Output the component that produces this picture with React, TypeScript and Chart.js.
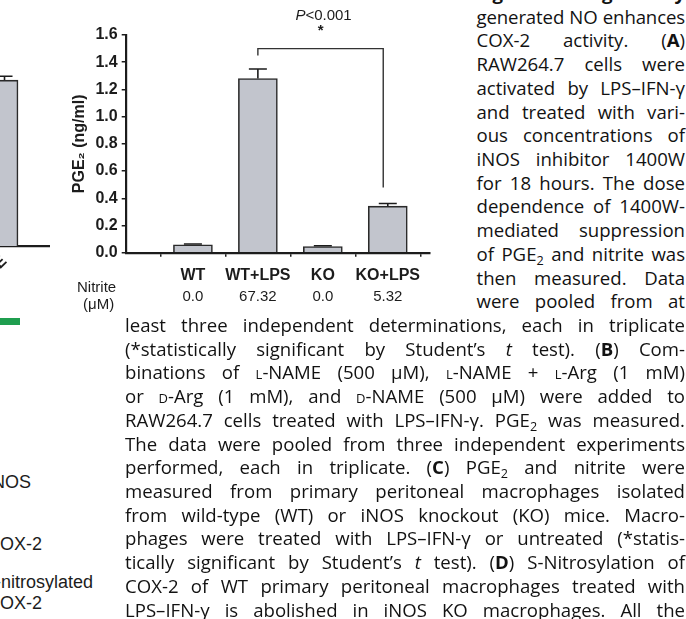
import React, { useEffect, useLayoutEffect, useRef } from "react";
import { Chart, registerables } from "chart.js";

Chart.register(...registerables);

// ---- Panel C data ----
const categories = ["WT", "WT+LPS", "KO", "KO+LPS"];
const pge2Values = [0.058, 1.28, 0.045, 0.342];
const pge2Errors = [0.006, 0.07, 0.006, 0.02];
const nitriteValues = ["0.0", "67.32", "0.0", "5.32"];
const yTickStep = 0.2;
const yMax = 1.6;
const sigText = ["P", "<0.001", "*"];
const bracketX = [2, 3.93];
const bracketY = [1.45, 1.5, 0.48];
const sigTextY = [1.747, 1.655];

// ---- Panel B fragment data ----
const panelBCategories = ["D-NAME"];
const panelBValues = [1.27];
const panelBErrors = [0.03];

const FONT = '"Liberation Sans", Arial, Helvetica, sans-serif';
const TEXT_FONT = '"Open Sans", "Noto Sans", sans-serif';
const BAR_FILL = "#c2c5cd";
const INK = "#1c1c1c";

const errorBarPlugin = {
  id: "errorBars",
  afterDatasetsDraw(chart: any, _args: any, opts: any) {
    const { ctx, scales } = chart;
    const xs = scales.x;
    const ys = scales.y;
    const errs: number[] = opts.errors || [];
    const cap: number = opts.cap || 18;
    const ds = chart.data.datasets[0];
    ctx.save();
    ctx.strokeStyle = INK;
    ctx.lineWidth = 1.6;
    ds.data.forEach((p: any, i: number) => {
      const px = xs.getPixelForValue(p.x);
      const y0 = ys.getPixelForValue(p.y);
      const y1 = ys.getPixelForValue(p.y + (errs[i] || 0));
      ctx.beginPath();
      ctx.moveTo(px, y0);
      ctx.lineTo(px, y1);
      ctx.moveTo(px - cap / 2, y1);
      ctx.lineTo(px + cap / 2, y1);
      ctx.stroke();
    });
    ctx.restore();
  },
};

const bracketPlugin = {
  id: "sigBracket",
  afterDraw(chart: any) {
    const { ctx, scales } = chart;
    const xs = scales.x;
    const ys = scales.y;
    const xl = xs.getPixelForValue(bracketX[0]);
    const xr = xs.getPixelForValue(bracketX[1]);
    const yl = ys.getPixelForValue(bracketY[0]);
    const yt = ys.getPixelForValue(bracketY[1]);
    const yr = ys.getPixelForValue(bracketY[2]);
    ctx.save();
    ctx.strokeStyle = "#333";
    ctx.lineWidth = 1.4;
    ctx.beginPath();
    ctx.moveTo(xl, yl);
    ctx.lineTo(xl, yt);
    ctx.lineTo(xr, yt);
    ctx.lineTo(xr, yr);
    ctx.stroke();
    const cx = (xl + xr) / 2;
    const ty = ys.getPixelForValue(sigTextY[0]);
    ctx.fillStyle = INK;
    ctx.textBaseline = "middle";
    ctx.textAlign = "left";
    ctx.font = `italic 15px ${FONT}`;
    const w1 = ctx.measureText(sigText[0]).width;
    ctx.font = `15px ${FONT}`;
    const w2 = ctx.measureText(sigText[1]).width;
    const sx = cx - (w1 + w2) / 2 + 3;
    ctx.font = `italic 15px ${FONT}`;
    ctx.fillText(sigText[0], sx, ty + 1);
    ctx.font = `15px ${FONT}`;
    ctx.fillText(sigText[1], sx + w1, ty + 1);
    ctx.font = `bold 15px ${FONT}`;
    ctx.textAlign = "center";
    ctx.textBaseline = "alphabetic";
    ctx.fillText(sigText[2], cx, ys.getPixelForValue(sigTextY[1]) + 7.5);
    ctx.restore();
  },
};

function PanelC() {
  const ref = useRef<HTMLCanvasElement | null>(null);
  useEffect(() => {
    if (!ref.current) return;
    const chart = new Chart(ref.current, {
      type: "bar",
      data: {
        datasets: [
          {
            data: categories.map((_, i) => ({ x: i + 1, y: pge2Values[i] })),
            backgroundColor: BAR_FILL,
            borderColor: "#2a2a2a",
            borderWidth: 1.6,
            barThickness: 39,
          } as any,
        ],
      },
      options: {
        animation: false,
        responsive: false,
        maintainAspectRatio: false,
        layout: { padding: { top: 35, right: 20, bottom: 13.3, left: 0 } },
        plugins: {
          legend: { display: false },
          tooltip: { enabled: false },
          errorBars: { errors: pge2Errors, cap: 18 },
        } as any,
        scales: {
          x: {
            type: "linear",
            position: "bottom",
            min: -0.035,
            max: 4.65,
            offset: false,
            afterBuildTicks: (s: any) => {
              s.ticks = categories.map((_, i) => ({ value: i + 1 }));
            },
            afterFit: (s: any) => {
              s.height = 32;
            },
            ticks: {
              autoSkip: false,
              maxRotation: 0,
              minRotation: 0,
              padding: 9,
              color: INK,
              font: { family: FONT, size: 16, weight: "bold" },
              callback: (_v: any, i: number) => categories[i] ?? "",
            },
            grid: {
              display: true,
              drawOnChartArea: false,
              drawTicks: true,
              tickLength: 4,
              color: INK,
              lineWidth: 1.5,
            },
            border: { display: true, color: INK, width: 2.2 },
          },
          x2: {
            type: "linear",
            position: "bottom",
            min: -0.035,
            max: 4.65,
            offset: false,
            afterBuildTicks: (s: any) => {
              s.ticks = nitriteValues.map((_, i) => ({ value: i + 1 }));
            },
            afterFit: (s: any) => {
              s.height = 22;
            },
            ticks: {
              autoSkip: false,
              maxRotation: 0,
              minRotation: 0,
              padding: 3,
              color: INK,
              font: { family: FONT, size: 15 },
              callback: (_v: any, i: number) => nitriteValues[i] ?? "",
            },
            grid: { display: false, drawTicks: false },
            border: { display: false },
          },
          y: {
            type: "linear",
            min: 0,
            max: yMax,
            afterFit: (s: any) => {
              s.width = 55.7;
            },
            ticks: {
              stepSize: yTickStep,
              padding: 4,
              color: INK,
              font: { family: FONT, size: 16, weight: "bold" },
              callback: (v: any) => Number(v).toFixed(1),
            },
            title: {
              display: true,
              text: "PGE\u2082 (ng/ml)",
              color: INK,
              padding: 0,
              font: { family: FONT, size: 16, weight: "bold" },
            },
            grid: {
              display: true,
              drawOnChartArea: false,
              drawTicks: true,
              tickLength: 4,
              color: INK,
              lineWidth: 1.5,
            },
            border: { display: true, color: INK, width: 2.2 },
          },
        } as any,
      },
      plugins: [errorBarPlugin, bracketPlugin],
    } as any);
    return () => chart.destroy();
  }, []);
  return (
    <canvas
      ref={ref}
      width={380}
      height={320}
      style={{ position: "absolute", left: 70, top: 0, width: 380, height: 320 }}
    />
  );
}

function PanelBFragment() {
  const ref = useRef<HTMLCanvasElement | null>(null);
  useEffect(() => {
    if (!ref.current) return;
    const chart = new Chart(ref.current, {
      type: "bar",
      data: {
        datasets: [
          {
            data: panelBCategories.map((_, i) => ({ x: i, y: panelBValues[i] })),
            backgroundColor: BAR_FILL,
            borderColor: "#2a2a2a",
            borderWidth: 1.6,
            barThickness: 27,
          } as any,
        ],
      },
      options: {
        animation: false,
        responsive: false,
        maintainAspectRatio: false,
        layout: { padding: { top: 37, right: 0, bottom: 0, left: 40 } },
        plugins: {
          legend: { display: false },
          tooltip: { enabled: false },
          errorBars: { errors: panelBErrors, cap: 16 },
        } as any,
        scales: {
          x: {
            type: "linear",
            position: "bottom",
            min: -1,
            max: 0.705,
            offset: false,
            afterBuildTicks: (s: any) => {
              s.ticks = panelBCategories.map((_, i) => ({ value: i }));
            },
            afterFit: (s: any) => {
              s.height = 54;
            },
            ticks: {
              autoSkip: false,
              maxRotation: 45,
              minRotation: 45,
              padding: 2,
              color: INK,
              font: { family: FONT, size: 16, weight: "bold" },
              callback: (_v: any, i: number) => panelBCategories[i] ?? "",
            },
            grid: {
              display: true,
              drawOnChartArea: false,
              drawTicks: true,
              tickLength: 4,
              color: INK,
              lineWidth: 1.5,
            },
            border: { display: true, color: INK, width: 2.2 },
          },
          y: { type: "linear", display: false, min: 0, max: yMax },
        } as any,
      },
      plugins: [errorBarPlugin],
    } as any);
    return () => chart.destroy();
  }, []);
  return (
    <canvas
      ref={ref}
      width={150}
      height={300}
      style={{ position: "absolute", left: -100, top: 0, width: 150, height: 300 }}
    />
  );
}

const Sub = () => (
  <sub style={{ fontSize: "0.68em", verticalAlign: "-0.3em", lineHeight: 0 }}>2</sub>
);
const SC = ({ c }: { c: string }) => <span style={{ fontVariant: "small-caps" }}>{c}</span>;

const rightLines: React.ReactNode[] = [
  <b>Figure 4 Endogenously</b>,
  <>generated NO enhances</>,
  <>COX-2 activity. (<b>A</b>)</>,
  <>RAW264.7 cells were</>,
  <>activated by LPS–IFN-γ</>,
  <>and treated with vari-</>,
  <>ous concentrations of</>,
  <>iNOS inhibitor 1400W</>,
  <>for 18 hours. The dose</>,
  <>dependence of 1400W-</>,
  <>mediated suppression</>,
  <>of PGE<Sub /> and nitrite was</>,
  <>then measured. Data</>,
  <>were pooled from at</>,
];

const fullLines: React.ReactNode[] = [
  <>least three independent determinations, each in triplicate</>,
  <>(*statistically significant by Student’s <i>t</i> test). (<b>B</b>) Com-</>,
  <>binations of <SC c="l" />-NAME (500 μM), <SC c="l" />-NAME + <SC c="l" />-Arg (1 mM)</>,
  <>or <SC c="d" />-Arg (1 mM), and <SC c="d" />-NAME (500 μM) were added to</>,
  <>RAW264.7 cells treated with LPS–IFN-γ. PGE<Sub /> was measured.</>,
  <>The data were pooled from three independent experiments</>,
  <>performed, each in triplicate. (<b>C</b>) PGE<Sub /> and nitrite were</>,
  <>measured from primary peritoneal macrophages isolated</>,
  <>from wild-type (WT) or iNOS knockout (KO) mice. Macro-</>,
  <>phages were treated with LPS–IFN-γ or untreated (*statis-</>,
  <>tically significant by Student’s <i>t</i> test). (<b>D</b>) S-Nitrosylation of</>,
  <>COX-2 of WT primary peritoneal macrophages treated with</>,
  <>LPS–IFN-γ is abolished in iNOS KO macrophages. All the</>,
];

const LH = 23.72;
const FONT_SIZE = 18.6;
const BASELINE_OFFSET = 19.1;

function CaptionLine({
  left,
  width,
  idx,
  children,
}: {
  left: number;
  width: number;
  idx: number;
  children: React.ReactNode;
}) {
  const boxRef = useRef<HTMLDivElement | null>(null);
  const spanRef = useRef<HTMLSpanElement | null>(null);
  useLayoutEffect(() => {
    const fit = () => {
      const el = boxRef.current;
      const sp = spanRef.current;
      if (!el || !sp) return;
      el.style.textAlignLast = "left";
      el.style.letterSpacing = "0px";
      const w = sp.getBoundingClientRect().width;
      if (w > width - 0.5) {
        const n = Math.max((sp.textContent || "").length, 1);
        el.style.letterSpacing = `${-(w - width + 1) / n}px`;
      }
      el.style.textAlignLast = "justify";
    };
    fit();
    const fonts: any = (document as any).fonts;
    if (fonts && fonts.ready) fonts.ready.then(fit);
  }, [width]);
  return (
    <div
      ref={boxRef}
      style={{
        position: "absolute",
        left,
        width,
        top: idx * LH - BASELINE_OFFSET,
        height: LH,
        lineHeight: `${LH}px`,
        fontFamily: TEXT_FONT,
        fontSize: FONT_SIZE,
        color: "#121212",
        textAlign: "justify",
        whiteSpace: "nowrap",
      }}
    >
      <span ref={spanRef}>{children}</span>
    </div>
  );
}

const fragStyle = (right: number, center: number): React.CSSProperties => ({
  position: "absolute",
  left: right - 200,
  width: 200,
  top: center - 11,
  height: 22,
  lineHeight: "22px",
  textAlign: "right",
  fontFamily: FONT,
  fontSize: 18,
  color: INK,
  whiteSpace: "nowrap",
});

export default function App() {
  return (
    <div
      style={{
        position: "absolute",
        left: 0,
        top: 0,
        width: 686,
        height: 619,
        overflow: "hidden",
        background: "#fff",
      }}
    >
      <PanelBFragment />
      <PanelC />
      <div
        style={{
          position: "absolute",
          left: 77,
          top: 278,
          fontFamily: FONT,
          fontSize: 15,
          lineHeight: "17px",
          color: INK,
        }}
      >
        Nitrite
        <br />
        <span style={{ marginLeft: 6 }}>(μM)</span>
      </div>
      <div
        style={{
          position: "absolute",
          left: 0,
          top: 318,
          width: 20,
          height: 7,
          background: "#1f9e4f",
        }}
      />
      <div style={fragStyle(31, 482)}>iNOS</div>
      <div style={fragStyle(42, 544)}>COX-2</div>
      <div style={fragStyle(93, 582)}>S-nitrosylated</div>
      <div style={fragStyle(42, 603)}>COX-2</div>
      {rightLines.map((l, i) => (
        <CaptionLine key={"r" + i} left={476.5} width={208.5} idx={i}>
          {l}
        </CaptionLine>
      ))}
      {fullLines.map((l, i) => (
        <CaptionLine key={"f" + i} left={125} width={560} idx={i + rightLines.length}>
          {l}
        </CaptionLine>
      ))}
    </div>
  );
}
